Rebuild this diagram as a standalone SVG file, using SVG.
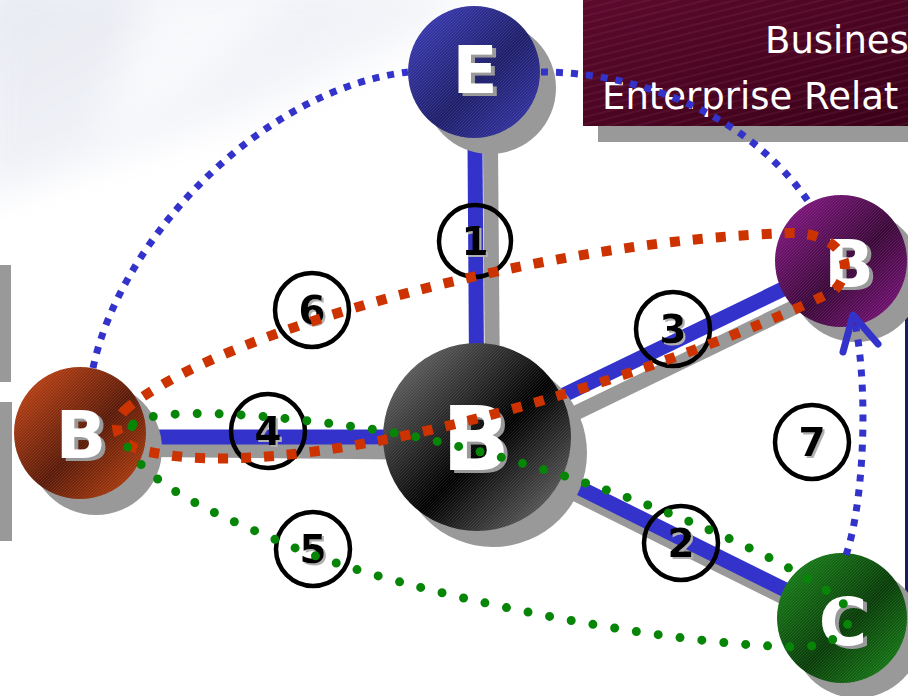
<svg xmlns="http://www.w3.org/2000/svg" width="908" height="696" viewBox="0 0 908 696">
<defs>
<style>
.lineShadow{stroke:#999;stroke-width:15;fill:none}
.solid{stroke:#3333cc;stroke-width:15;fill:none}
.nodeShadow{fill:#999}
.hatch{fill:url(#hatch)}
.nodeLabel{font-family:"DejaVu Sans",Verdana,sans-serif;font-weight:bold;text-anchor:middle;fill:#fff;filter:url(#txtShadow)}
.num{font-family:"DejaVu Sans",Verdana,sans-serif;font-weight:bold;font-size:39px;text-anchor:middle;fill:#000;filter:url(#numShadow)}
.ring{fill:none;stroke:#000;stroke-width:4.5}
.dotBlue{fill:none;stroke:#3333cc;stroke-width:7;stroke-dasharray:7 8}
.dotRed{fill:none;stroke:#cc3300;stroke-width:10;stroke-dasharray:10 13}
.dotGreen{fill:none;stroke:#078507;stroke-width:9;stroke-linecap:round;stroke-dasharray:0 22}
.title{font-family:"DejaVu Sans",Verdana,sans-serif;font-size:37px;fill:#fff}
</style>
<filter id="txtShadow" x="-20%" y="-20%" width="150%" height="150%">
<feOffset in="SourceAlpha" dx="4" dy="3" result="o"/>
<feFlood flood-color="#9a9a9a"/>
<feComposite in2="o" operator="in" result="s"/>
<feMerge><feMergeNode in="s"/><feMergeNode in="SourceGraphic"/></feMerge>
</filter>
<filter id="numShadow" x="-20%" y="-20%" width="150%" height="150%">
<feOffset in="SourceAlpha" dx="2" dy="2" result="o"/>
<feFlood flood-color="#b0b0b0"/>
<feComposite in2="o" operator="in" result="s"/>
<feMerge><feMergeNode in="s"/><feMergeNode in="SourceGraphic"/></feMerge>
</filter>
<pattern id="hatch" patternUnits="userSpaceOnUse" width="3" height="3">
<path d="M0,3 L3,0" stroke="#fff" stroke-opacity="0.13" stroke-width="0.7"/>
</pattern>
<pattern id="boxHatch" patternUnits="userSpaceOnUse" width="40" height="7" patternTransform="rotate(-14)">
<line x1="0" y1="3" x2="40" y2="3" stroke="#b07090" stroke-opacity="0.35" stroke-width="0.6"/>
</pattern>
<linearGradient id="gE" x1="0" y1="0" x2="1" y2="1">
<stop offset="0" stop-color="#4040c0"/><stop offset="0.55" stop-color="#1e1e6a"/><stop offset="1" stop-color="#3838b0"/>
</linearGradient>
<linearGradient id="gBig" x1="0" y1="0" x2="1" y2="1">
<stop offset="0" stop-color="#7a7a7a"/><stop offset="0.55" stop-color="#000"/><stop offset="1" stop-color="#7a7a7a"/>
</linearGradient>
<linearGradient id="gLeft" x1="0" y1="0" x2="1" y2="1">
<stop offset="0" stop-color="#d04a18"/><stop offset="0.55" stop-color="#5a1a08"/><stop offset="1" stop-color="#c4440f"/>
</linearGradient>
<linearGradient id="gPurple" x1="0" y1="0" x2="1" y2="1">
<stop offset="0" stop-color="#901a90"/><stop offset="0.55" stop-color="#3a0838"/><stop offset="1" stop-color="#861486"/>
</linearGradient>
<linearGradient id="gGreen" x1="0" y1="0" x2="1" y2="1">
<stop offset="0" stop-color="#1c8c1c"/><stop offset="0.55" stop-color="#083c08"/><stop offset="1" stop-color="#1a8a1a"/>
</linearGradient>
<linearGradient id="gBox" x1="0" y1="0" x2="1" y2="1">
<stop offset="0" stop-color="#5c0a2c"/><stop offset="1" stop-color="#3a0018"/>
</linearGradient>
<linearGradient id="gBg" x1="0" y1="0" x2="1" y2="0.8">
<stop offset="0" stop-color="#e2e5ef"/><stop offset="0.5" stop-color="#eef0f6"/><stop offset="1" stop-color="#fff"/>
</linearGradient>
<filter id="blur" x="-20%" y="-20%" width="140%" height="140%"><feGaussianBlur stdDeviation="18"/></filter>
</defs>

<g id="background">
<rect x="0" y="0" width="908" height="696" fill="#fff"/>
<path d="M-20,-20 L480,-20 L420,40 L260,110 L100,160 L-20,200 Z" fill="url(#gBg)" filter="url(#blur)" opacity="0.85"/>
<path d="M150,-10 L300,-10 L200,90 L90,150 Z" fill="#fff" filter="url(#blur)" opacity="0.6"/>
<rect x="0" y="265" width="11" height="117" fill="#999"/>
<rect x="0" y="402" width="12" height="139" fill="#999"/>
<rect x="905" y="282" width="3" height="330" fill="#1c1c66"/>
</g>

<g id="title">
<rect x="598" y="16" width="310" height="126" fill="#999"/>
<rect x="583" y="0" width="325" height="126" fill="url(#gBox)"/>
<rect x="583" y="0" width="325" height="126" fill="url(#boxHatch)"/>
<text class="title" x="765" y="53">Busines</text>
<text class="title" x="602" y="109">Enterprise Relat</text>
</g>

<g id="connectors">
<line class="lineShadow" x1="490" y1="86" x2="493" y2="453"/>
<line class="lineShadow" x1="96" y1="449" x2="493" y2="453"/>
<line class="lineShadow" x1="493" y1="453" x2="857" y2="277"/>
<line class="lineShadow" x1="493" y1="453" x2="858" y2="634"/>
<line class="solid" x1="474.5" y1="72" x2="477" y2="437"/>
<line class="solid" x1="80" y1="437" x2="477" y2="437"/>
<line class="solid" x1="477" y1="437" x2="841" y2="261"/>
<line class="solid" x1="477" y1="437" x2="842" y2="618"/>
</g>

<g id="node-E">
<circle class="nodeShadow" cx="490" cy="88" r="66"/>
<circle cx="474" cy="72" r="66" fill="url(#gE)"/>
<circle class="hatch" cx="474" cy="72" r="66"/>
<text class="nodeLabel" x="475" y="93" font-size="66">E</text>
</g>

<g id="node-B-center">
<circle class="nodeShadow" cx="493" cy="453" r="94"/>
<circle cx="477" cy="437" r="94" fill="url(#gBig)"/>
<circle class="hatch" cx="477" cy="437" r="94"/>
<text class="nodeLabel" x="476" y="470" font-size="89">B</text>
</g>

<g id="node-B-left">
<circle class="nodeShadow" cx="96" cy="449" r="66"/>
<circle cx="80" cy="433" r="66" fill="url(#gLeft)"/>
<circle class="hatch" cx="80" cy="433" r="66"/>
<text class="nodeLabel" x="81" y="458" font-size="66">B</text>
</g>

<g id="node-B-right">
<circle class="nodeShadow" cx="856" cy="276" r="66"/>
<circle cx="841" cy="261" r="66" fill="url(#gPurple)"/>
<circle class="hatch" cx="841" cy="261" r="66"/>
<text class="nodeLabel" x="849" y="287" font-size="65">B</text>
</g>

<g id="node-C">
<circle class="nodeShadow" cx="857" cy="633" r="65"/>
<circle cx="842" cy="618" r="65" fill="url(#gGreen)"/>
<circle class="hatch" cx="842" cy="618" r="65"/>
<text class="nodeLabel" x="843" y="645" font-size="66">C</text>
</g>

<g id="labels">
<circle class="ring" cx="475" cy="241" r="36"/>
<text class="num" x="475" y="255">1</text>
<circle class="ring" cx="681" cy="543" r="37"/>
<text class="num" x="681" y="557">2</text>
<circle class="ring" cx="673" cy="329" r="37"/>
<text class="num" x="673" y="343">3</text>
<circle class="ring" cx="268" cy="431" r="37"/>
<text class="num" x="268" y="445">4</text>
<circle class="ring" cx="313" cy="549" r="37"/>
<text class="num" x="313" y="563">5</text>
<circle class="ring" cx="312" cy="310" r="37"/>
<text class="num" x="312" y="324">6</text>
<circle class="ring" cx="812" cy="442" r="37"/>
<text class="num" x="812" y="456">7</text>
</g>

<g id="dotted-connectors">
<path class="dotBlue" d="M93,368 C120,240 260,90 408,72"/>
<path class="dotBlue" d="M541,72 C640,72 750,115 810,204"/>
<path class="dotRed" d="M125,410 C220,330 550,240 790,233 C835,232 860,262 835,290 C720,350 330,490 150,452 C115,446 110,425 125,410 Z"/>
<path class="dotGreen" d="M133,424 C150,408 250,410 390,432 C550,460 760,540 840,600 C860,620 845,645 800,647 C650,645 400,590 300,550 C230,520 150,490 126,444 Z"/>
<path class="dotBlue" d="M846,555 C862,510 870,400 855,322"/>
<path d="M843,352 L853,315 L878,344" fill="none" stroke="#3333cc" stroke-width="7" stroke-linecap="round" stroke-linejoin="round"/>
</g>
</svg>
